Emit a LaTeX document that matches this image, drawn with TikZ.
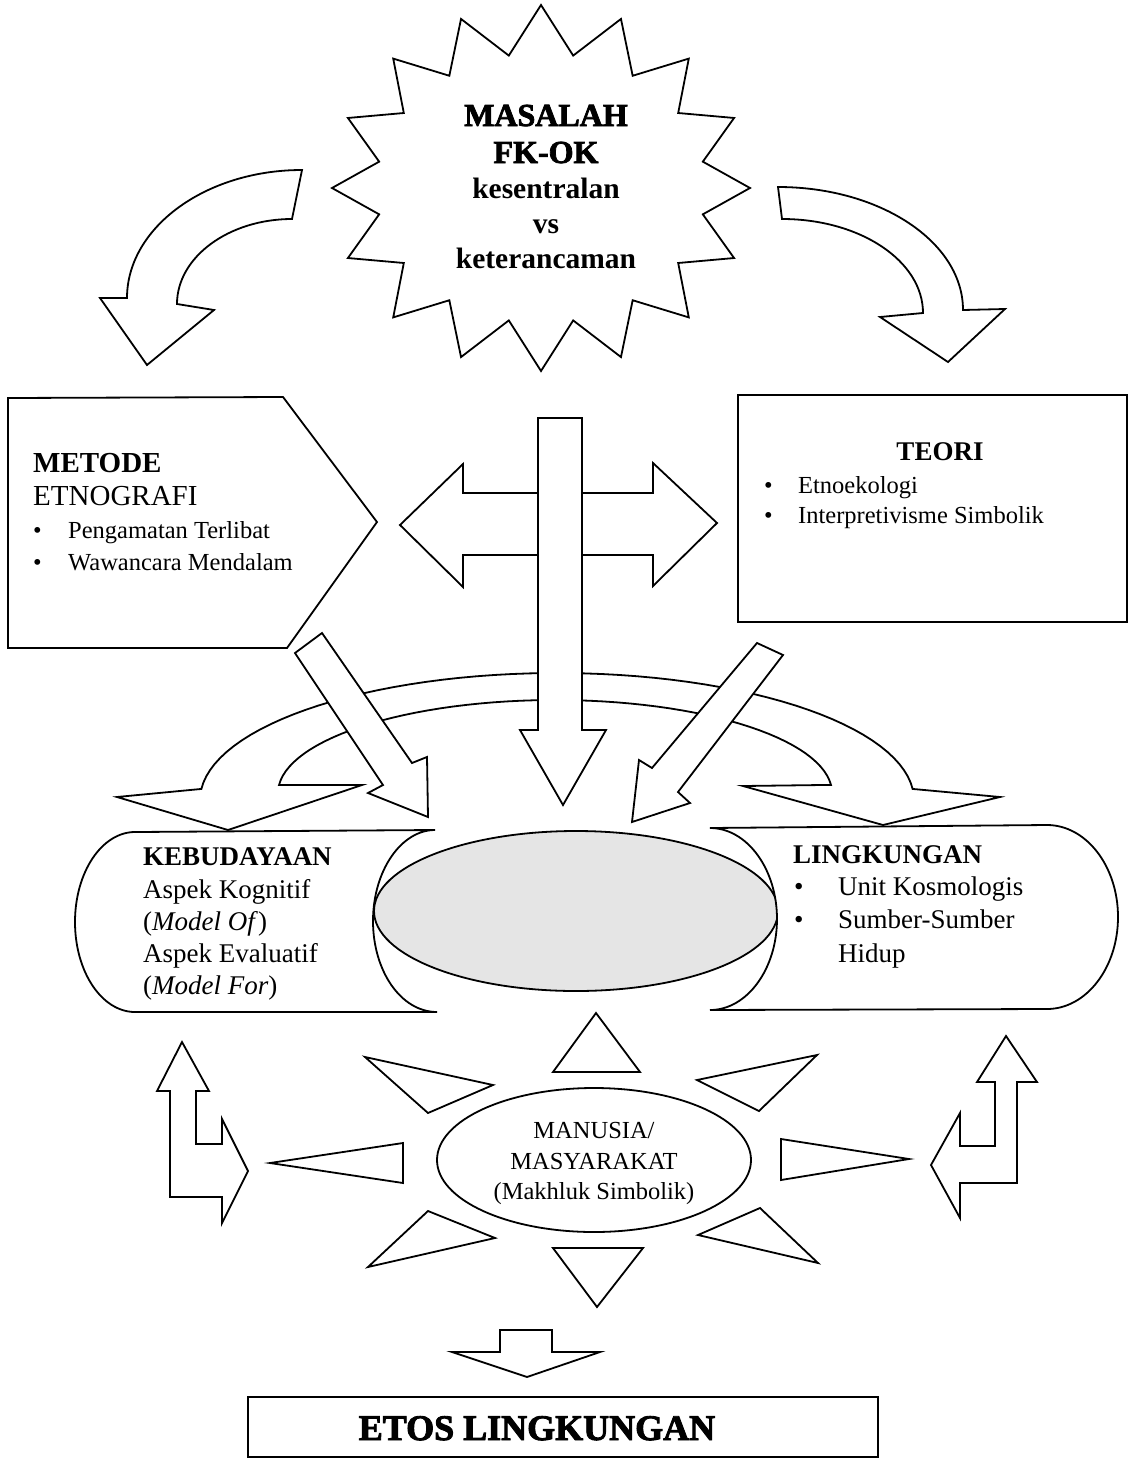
\documentclass[tikz,border=0pt]{standalone}
\usepackage{fontspec}
\setmainfont{Liberation Serif}
\newfontfamily\heavyfont{Liberation Serif Bold}[FakeBold=2.5]
\begin{document}
\begin{tikzpicture}[x=1pt,y=-1pt,
  shp/.style={draw=black, line width=1.8pt, fill=white, line join=miter, miter limit=20},
  bodytxt/.style={inner sep=0pt, anchor=base west, font=\fontsize{24.5}{28}\selectfont},
  midtxt/.style={inner sep=0pt, anchor=base west, font=\fontsize{27}{30}\selectfont},
  headtxt/.style={inner sep=0pt, anchor=base west, font=\fontsize{27}{30}\selectfont\bfseries},
  startxt/.style={inner sep=0pt, anchor=base, font=\fontsize{29.5}{34}\selectfont\bfseries},
  heavytxt/.style={inner sep=0pt, anchor=base, font=\fontsize{32}{36}\selectfont\heavyfont}
]
\useasboundingbox (0,0) rectangle (1134,1470);
\fill[white] (0,0) rectangle (1134,1470);

% starburst
\path[shp] ({541+209*cos(90)},{188-183*sin(90)})
  \foreach \i in {1,...,31} { -- ({541+(mod(\i,2)==0 ? 209 : 165)*cos(90+\i*11.25)},{188-(mod(\i,2)==0 ? 183 : 135)*sin(90+\i*11.25)}) } -- cycle;
\node[heavytxt] (mas1) at (546,126) {MASALAH};
\node[heavytxt] (mas2) at (546,163) {FK-OK};
\node[startxt] (mas3) at (546,198) {kesentralan};
\node[startxt] (mas4) at (546,233) {vs};
\node[startxt] (mas5) at (546,268) {keterancaman};

% top curved arrows
\path[shp] (302,170) .. controls (205,170) and (127,228) .. (127,298)
  -- (100,298) -- (147,365) -- (214,310) -- (177,304)
  .. controls (177,257) and (229,219) .. (292,219) -- cycle;
\path[shp] (778,187) .. controls (880,187) and (963,242) .. (963,310)
  -- (1005,309) -- (948,362) -- (880,317) -- (923,313)
  .. controls (923,261) and (860,219) .. (782,219) -- cycle;

% METODE pentagon
\path[shp] (8,398) -- (283,397) -- (377,522) -- (287,648) -- (8,648) -- cycle;
\node[headtxt, font=\fontsize{29}{32}\selectfont\bfseries] (met1) at (33,472) {METODE};
\node[midtxt, font=\fontsize{29}{32}\selectfont] (met2) at (33,505) {ETNOGRAFI};
\node[bodytxt] (met3) at (33,538) {\makebox[35pt][l]{\textbullet}Pengamatan Terlibat};
\node[bodytxt] (met4) at (33,570) {\makebox[35pt][l]{\textbullet}Wawancara Mendalam};

% TEORI box
\path[shp] (738,395) rectangle (1127,622);
\node[headtxt, anchor=base] (teo1) at (940,460) {TEORI};
\node[bodytxt] (teo2) at (764,493) {\makebox[34pt][l]{\textbullet}Etnoekologi};
\node[bodytxt] (teo3) at (764,523) {\makebox[34pt][l]{\textbullet}Interpretivisme Simbolik};

% big arc band with two down arrowheads
\path[shp] plot[domain=175:5, samples=60] ({557+357*cos(\x)},{800-127*sin(\x)})
  -- (1000,797) -- (883,825) -- (743,786)
  -- plot[domain=5:175, samples=60] ({555+277*cos(\x)},{793-93*sin(\x)})
  -- (362,785) -- (228,830) -- (117,797) -- cycle;

% horizontal double arrow
\path[shp] (400,525) -- (463,464) -- (463,493) -- (653,493) -- (653,463) -- (717,523)
  -- (653,586) -- (653,555) -- (463,555) -- (463,587) -- cycle;
% vertical arrow
\path[shp] (538,418) -- (582,418) -- (582,730) -- (606,730) -- (563,805) -- (520,730) -- (538,730) -- cycle;
% diagonal arrows
\path[shp] (322,633) -- (412,763) -- (427,757) -- (428,817) -- (368,793) -- (383,785) -- (295,653) -- cycle;
\path[shp] (757,643) -- (783,655) -- (678,792) -- (690,803) -- (632,822) -- (639,760) -- (652,768) -- cycle;

% central shaded ellipse
\path[shp, fill=black!10] (576,911) ellipse [x radius=202, y radius=80];

% KEBUDAYAAN shape
\path[shp] (135,832) -- (435,830)
  .. controls (401,830) and (373,871) .. (373,921)
  .. controls (373,971) and (401,1012) .. (437,1012)
  -- (135,1012)
  .. controls (102,1012) and (75,972) .. (75,922)
  .. controls (75,872) and (102,832) .. (135,832) -- cycle;
\node[headtxt] (keb1) at (143,865) {KEBUDAYAAN};
\node[midtxt] (keb2) at (143,898) {Aspek Kognitif};
\node[midtxt] (keb3) at (143,930) {(\textit{Model Of})};
\node[midtxt] (keb4) at (143,962) {Aspek Evaluatif};
\node[midtxt] (keb5) at (143,994) {(\textit{Model For})};

% LINGKUNGAN shape
\path[shp] (710,828) -- (1047,825)
  .. controls (1086,825) and (1118,866) .. (1118,917)
  .. controls (1118,968) and (1086,1009) .. (1047,1009)
  -- (710,1010)
  .. controls (747,1010) and (777,969) .. (777,919)
  .. controls (777,869) and (747,828) .. (710,828) -- cycle;
\node[headtxt] (lin1) at (793,863) {LINGKUNGAN};
\node[midtxt] (lin2) at (794,895) {\makebox[44pt][l]{\textbullet}Unit Kosmologis};
\node[midtxt] (lin3) at (794,928) {\makebox[44pt][l]{\textbullet}Sumber-Sumber};
\node[midtxt] (lin4) at (838,962) {Hidup};

% MANUSIA ellipse
\path[shp] (594,1160) ellipse [x radius=157, y radius=72];
\node[bodytxt, anchor=base] (man1) at (594,1138) {MANUSIA/};
\node[bodytxt, anchor=base] (man2) at (594,1169) {MASYARAKAT};
\node[bodytxt, anchor=base] (man3) at (594,1199) {(Makhluk Simbolik)};

% triangles
\path[shp] (553,1072) -- (596,1013) -- (640,1072) -- cycle;
\path[shp] (553,1248) -- (643,1248) -- (597,1307) -- cycle;
\path[shp] (365,1057) -- (493,1085) -- (428,1113) -- cycle;
\path[shp] (270,1163) -- (403,1143) -- (403,1183) -- cycle;
\path[shp] (368,1267) -- (428,1211) -- (495,1238) -- cycle;
\path[shp] (697,1080) -- (817,1055) -- (759,1111) -- cycle;
\path[shp] (781,1139) -- (909,1159) -- (781,1180) -- cycle;
\path[shp] (698,1235) -- (760,1208) -- (818,1263) -- cycle;

% L-shaped arrows
\path[shp] (182,1042) -- (209,1091) -- (196,1091) -- (196,1144) -- (222,1144) -- (222,1119)
  -- (248,1171) -- (222,1223) -- (222,1197) -- (170,1197) -- (170,1091) -- (157,1091) -- cycle;
\path[shp] (1006,1036) -- (1037,1082) -- (1017,1082) -- (1017,1183) -- (960,1183) -- (960,1218)
  -- (931,1165) -- (960,1113) -- (960,1146) -- (995,1146) -- (995,1082) -- (977,1082) -- cycle;

% bottom arrow
\path[shp] (500,1330) -- (552,1330) -- (552,1352) -- (600,1352) -- (527,1377) -- (452,1352) -- (500,1352) -- cycle;

% ETOS box
\path[shp] (248,1397) rectangle (878,1457);
\node[heavytxt, font=\fontsize{36}{40}\selectfont\heavyfont] (etos) at (537,1440) {ETOS LINGKUNGAN};
\end{tikzpicture}
\end{document}
